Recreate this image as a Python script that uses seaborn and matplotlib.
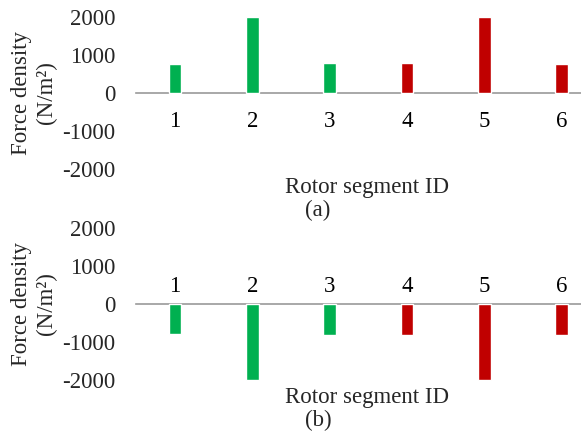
import matplotlib
matplotlib.use("Agg")
import matplotlib.pyplot as plt
import seaborn as sns
import pandas as pd

sns.set_style("white")
plt.rcParams["font.family"] = ["Liberation Serif", "DejaVu Serif"]

segments = ["1", "2", "3", "4", "5", "6"]
groups = ["A", "A", "A", "B", "B", "B"]
force_a = [775, 2000, 800, 800, 2000, 775]
force_b = [-800, -2000, -820, -820, -2000, -810]
yticks = [2000, 1000, 0, -1000, -2000]
palette = {"A": "#00B050", "B": "#C00000"}

fig = plt.figure(figsize=(5.81, 4.32), dpi=100)
ax_a = fig.add_axes([0.2348, 0.6088, 0.7652, 0.3507])
ax_b = fig.add_axes([0.2348, 0.1204, 0.7652, 0.3519])

FS = 16.5

for ax, vals, label_side in ((ax_a, force_a, "bottom"), (ax_b, force_b, "top")):
    df = pd.DataFrame({"segment": segments, "force": vals, "group": groups})
    sns.barplot(data=df, x="segment", y="force", hue="group", palette=palette,
                width=0.165, dodge=False, legend=False, ax=ax, saturation=1)
    for p in ax.patches:
        p.set_clip_on(False)
    ax.set_xlim(-0.5, 5.25)
    ax.set_ylim(-2000, 2000)
    ax.set_yticks(yticks)
    ax.set_yticklabels([str(t) for t in yticks])
    ax.set_xlabel("")
    ax.set_ylabel("")
    for s in ax.spines.values():
        s.set_visible(False)
    sp = ax.spines[label_side]
    sp.set_visible(True)
    sp.set_position(("data", 0))
    sp.set_color("#9a9a9a")
    sp.set_linewidth(1.2)
    sp.set_zorder(0)
    ax.xaxis.set_ticks_position(label_side)
    pad = 13.0 if label_side == "bottom" else 5.0
    ax.tick_params(axis="x", length=0, labelsize=FS, pad=pad, colors="black")
    ax.tick_params(axis="y", length=0, labelsize=FS, pad=15)
    ax.patch.set_alpha(0)

ylabel = "Force density\n(N/m²)"
for yc in (1 - 93 / 432, 1 - 304 / 432):
    fig.text(34 / 581, yc, ylabel, rotation=90, ha="center", va="center",
             fontsize=FS, linespacing=1.2, multialignment="center")

fig.text(367 / 581, 1 - 188 / 432, "Rotor segment ID", ha="center", va="center", fontsize=FS)
fig.text(318 / 581, 1 - 210 / 432, "(a)", ha="center", va="center", fontsize=FS)
fig.text(367 / 581, 1 - 398 / 432, "Rotor segment ID", ha="center", va="center", fontsize=FS)
fig.text(318 / 581, 1 - 420 / 432, "(b)", ha="center", va="center", fontsize=FS)

fig.savefig("out.png", dpi=100)
